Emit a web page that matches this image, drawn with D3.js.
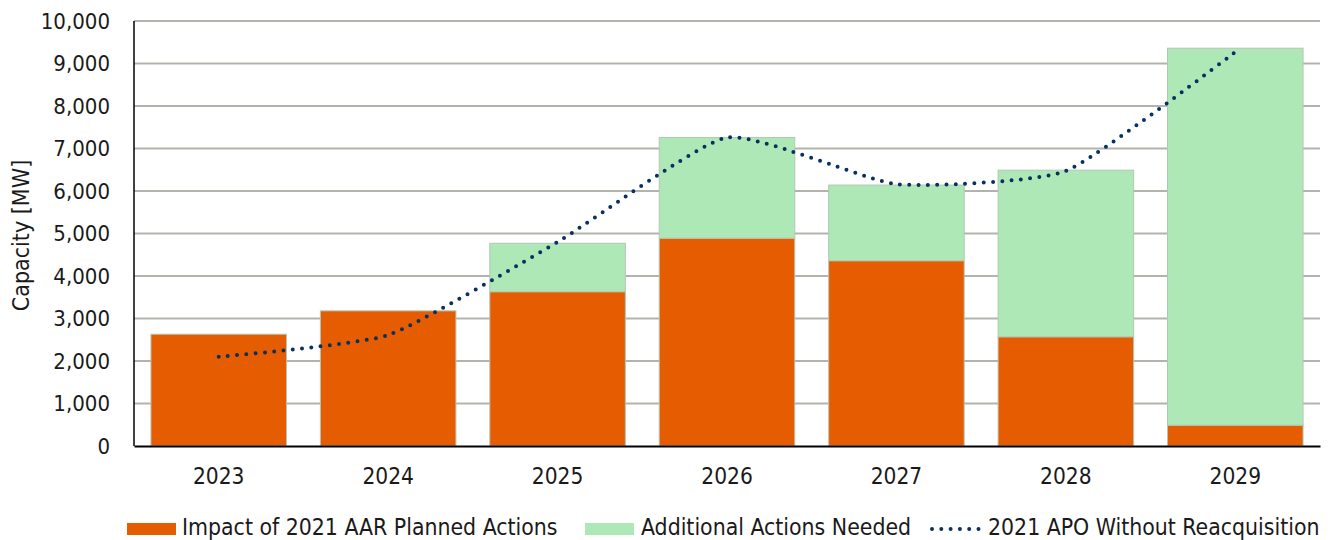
<!DOCTYPE html>
<html>
<head>
<meta charset="utf-8">
<script src="https://cdn.jsdelivr.net/npm/d3@7/dist/d3.min.js"></script>
<style>
  html, body { margin: 0; padding: 0; background: #fff; }
  svg { display: block; font-family: "DejaVu Sans Condensed", "DejaVu Sans", sans-serif; font-stretch: condensed; }
</style>
</head>
<body>
<svg id="chart" width="1335" height="540"></svg>
<script>
const years = ["2023", "2024", "2025", "2026", "2027", "2028", "2029"];
const planned = [2630, 3180, 3630, 4890, 4360, 2570, 490];
const additional = [0, 0, 1140, 2370, 1780, 3920, 8870];
const apo = [2100, 2610, 4800, 7260, 6160, 6470, 9270];
const yTicks = [0, 1000, 2000, 3000, 4000, 5000, 6000, 7000, 8000, 9000, 10000];
const seriesNames = ["Impact of 2021 AAR Planned Actions", "Additional Actions Needed", "2021 APO Without Reacquisition"];

const FONT = "'DejaVu Sans Condensed', 'DejaVu Sans', sans-serif";
const svg = d3.select("#chart");
const pLeft = 134, pRight = 1320, pTop = 21, pBottom = 446;

const x = d3.scaleBand().domain(years).range([pLeft, pRight]).paddingInner(0.2).paddingOuter(0.1);
const y = d3.scaleLinear().domain([0, 10000]).range([pBottom, pTop]);

// gridlines
svg.append("g").selectAll("line").data(yTicks.filter(d => d > 0)).join("line")
  .attr("x1", pLeft).attr("x2", pRight)
  .attr("y1", d => y(d)).attr("y2", d => y(d))
  .attr("stroke", "#b3b3ae").attr("stroke-width", 2);

// y axis labels
const yAxis = d3.axisLeft(y).tickValues(yTicks).tickSize(0).tickPadding(24).tickFormat(d3.format(","));
const gy = svg.append("g").attr("transform", `translate(${pLeft},0)`).call(yAxis);
gy.select(".domain").remove();
gy.selectAll("text").attr("font-size", "22px").attr("fill", "#1a1a1a").attr("font-family", FONT).attr("font-stretch", "condensed");

// bars
const stackData = years.map((yr, i) => ({ year: yr, planned: planned[i], additional: additional[i] }));
const stack = d3.stack().keys(["planned", "additional"])(stackData);
const colors = { planned: "#e65c00", additional: "#ade8b6" };
svg.append("g").selectAll("g").data(stack).join("g")
  .attr("fill", d => colors[d.key])
  .selectAll("rect").data(d => d.filter(p => p[1] - p[0] > 0)).join("rect")
  .attr("x", d => x(d.data.year))
  .attr("width", x.bandwidth())
  .attr("y", d => y(d[1]))
  .attr("height", d => y(d[0]) - y(d[1]))
  .attr("stroke", "#b4c6b4").attr("stroke-width", 1);

// axes lines
svg.append("line").attr("x1", pLeft).attr("x2", pLeft).attr("y1", pTop).attr("y2", pBottom)
  .attr("stroke", "#000").attr("stroke-width", 1.5);
const xAxis = d3.axisBottom(x).tickSize(0).tickPadding(22);
const gx = svg.append("g").attr("transform", `translate(0,${pBottom})`).call(xAxis);
gx.select(".domain").attr("stroke", "#000").attr("stroke-width", 2);
gx.selectAll("text").attr("font-size", "22.5px").attr("fill", "#1a1a1a").attr("font-family", FONT).attr("font-stretch", "condensed");

// line
const line = d3.line()
  .x((d, i) => x(years[i]) + x.bandwidth() / 2)
  .y(d => y(d))
  .curve(d3.curveCardinal.tension(0.5));
svg.append("path").datum(apo).attr("d", line)
  .attr("fill", "none").attr("stroke", "#0a3060").attr("stroke-width", 4)
  .attr("stroke-linecap", "round").attr("stroke-dasharray", "0 9.3");

// y title
svg.append("text")
  .attr("transform", `translate(29,${(pTop + pBottom) / 2 + 2}) rotate(-90)`)
  .attr("text-anchor", "middle")
  .attr("font-size", "23px").attr("fill", "#1a1a1a").attr("font-family", FONT).attr("font-stretch", "condensed")
  .text("Capacity [MW]");

// legend
const lg = svg.append("g").attr("font-size", "22.8px").attr("fill", "#1a1a1a").attr("font-family", FONT).attr("font-stretch", "condensed");
lg.append("rect").attr("x", 127).attr("y", 523).attr("width", 49).attr("height", 12).attr("fill", colors.planned);
lg.append("text").attr("x", 182).attr("y", 535).text(seriesNames[0]);
lg.append("rect").attr("x", 585).attr("y", 523).attr("width", 49).attr("height", 12).attr("fill", colors.additional);
lg.append("text").attr("x", 641).attr("y", 535).text(seriesNames[1]);
lg.append("line").attr("x1", 932).attr("x2", 981).attr("y1", 529).attr("y2", 529)
  .attr("stroke", "#0a3060").attr("stroke-width", 4).attr("stroke-linecap", "round").attr("stroke-dasharray", "0 9.3");
lg.append("text").attr("x", 988).attr("y", 535).text(seriesNames[2]);
</script>
</body>
</html>
